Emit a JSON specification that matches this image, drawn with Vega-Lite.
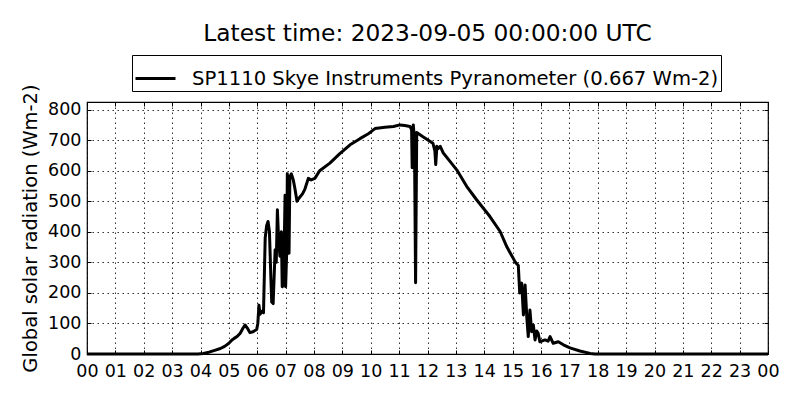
{
  "$schema": "https://vega.github.io/schema/vega-lite/v6.json",
  "width": 681,
  "height": 252,
  "autosize": "none",
  "padding": {"left": 87, "top": 102, "right": 32, "bottom": 46},
  "background": "white",
  "config": {
    "font": "DejaVu Sans",
    "view": {"stroke": "black", "strokeWidth": 1.2},
    "axis": {"domain": false, "labelFont": "DejaVu Sans", "labelFontSize": 17.5, "labelColor": "black", "tickColor": "black", "titleFont": "DejaVu Sans", "titleFontWeight": "normal", "titleColor": "black"}
  },
  "title": {"text": "Latest time: 2023-09-05 00:00:00 UTC", "fontSize": 23.3, "fontWeight": "normal", "font": "DejaVu Sans", "color": "black", "anchor": "middle", "offset": 8},
  "data": {"values": [
    {"h": 0, "v": 0}, {"h": 1, "v": 0}, {"h": 2, "v": 0}, {"h": 3, "v": 0}, {"h": 3.9, "v": 0},
    {"h": 4.1, "v": 2}, {"h": 4.3, "v": 6}, {"h": 4.5, "v": 12}, {"h": 4.7, "v": 18}, {"h": 4.85, "v": 25},
    {"h": 5.0, "v": 35}, {"h": 5.1, "v": 45}, {"h": 5.2, "v": 52}, {"h": 5.3, "v": 58}, {"h": 5.4, "v": 68},
    {"h": 5.5, "v": 85}, {"h": 5.57, "v": 95}, {"h": 5.65, "v": 85}, {"h": 5.74, "v": 70}, {"h": 5.85, "v": 73},
    {"h": 5.98, "v": 80}, {"h": 6.02, "v": 100}, {"h": 6.06, "v": 160}, {"h": 6.1, "v": 130}, {"h": 6.16, "v": 140},
    {"h": 6.22, "v": 135}, {"h": 6.28, "v": 380}, {"h": 6.33, "v": 420}, {"h": 6.38, "v": 434}, {"h": 6.43, "v": 400},
    {"h": 6.48, "v": 250}, {"h": 6.51, "v": 170}, {"h": 6.56, "v": 165}, {"h": 6.63, "v": 341}, {"h": 6.67, "v": 300},
    {"h": 6.71, "v": 472}, {"h": 6.75, "v": 380}, {"h": 6.8, "v": 320}, {"h": 6.85, "v": 400}, {"h": 6.88, "v": 220},
    {"h": 6.93, "v": 230}, {"h": 6.98, "v": 520}, {"h": 7.0, "v": 220}, {"h": 7.04, "v": 341}, {"h": 7.06, "v": 590},
    {"h": 7.1, "v": 500}, {"h": 7.12, "v": 330}, {"h": 7.15, "v": 580}, {"h": 7.2, "v": 590}, {"h": 7.27, "v": 570},
    {"h": 7.33, "v": 540}, {"h": 7.4, "v": 500}, {"h": 7.47, "v": 510}, {"h": 7.6, "v": 525}, {"h": 7.68, "v": 540},
    {"h": 7.8, "v": 575}, {"h": 7.9, "v": 570}, {"h": 8.03, "v": 575}, {"h": 8.2, "v": 600}, {"h": 8.56, "v": 625},
    {"h": 8.9, "v": 655}, {"h": 9.27, "v": 685}, {"h": 9.62, "v": 705}, {"h": 9.9, "v": 720}, {"h": 10.15, "v": 738},
    {"h": 10.5, "v": 742}, {"h": 10.8, "v": 745}, {"h": 11.03, "v": 750}, {"h": 11.2, "v": 748}, {"h": 11.38, "v": 745},
    {"h": 11.44, "v": 735}, {"h": 11.46, "v": 610}, {"h": 11.48, "v": 740}, {"h": 11.5, "v": 750}, {"h": 11.54, "v": 700},
    {"h": 11.58, "v": 233}, {"h": 11.62, "v": 725}, {"h": 11.84, "v": 711}, {"h": 12.19, "v": 690}, {"h": 12.26, "v": 665},
    {"h": 12.29, "v": 620}, {"h": 12.33, "v": 680}, {"h": 12.37, "v": 672}, {"h": 12.45, "v": 680}, {"h": 12.55, "v": 659},
    {"h": 12.8, "v": 630}, {"h": 13.03, "v": 603}, {"h": 13.38, "v": 549}, {"h": 13.73, "v": 505}, {"h": 14.2, "v": 450},
    {"h": 14.56, "v": 401}, {"h": 14.8, "v": 350}, {"h": 15.1, "v": 300}, {"h": 15.2, "v": 290}, {"h": 15.25, "v": 200},
    {"h": 15.32, "v": 232}, {"h": 15.38, "v": 128}, {"h": 15.44, "v": 226}, {"h": 15.5, "v": 120}, {"h": 15.55, "v": 57},
    {"h": 15.61, "v": 144}, {"h": 15.67, "v": 73}, {"h": 15.73, "v": 95}, {"h": 15.79, "v": 46}, {"h": 15.85, "v": 75},
    {"h": 15.9, "v": 68}, {"h": 15.96, "v": 40}, {"h": 16.14, "v": 46}, {"h": 16.25, "v": 42}, {"h": 16.32, "v": 57},
    {"h": 16.43, "v": 35}, {"h": 16.61, "v": 40}, {"h": 16.79, "v": 30}, {"h": 17.02, "v": 20}, {"h": 17.37, "v": 10},
    {"h": 17.73, "v": 2}, {"h": 17.9, "v": 0}, {"h": 24, "v": 0}
  ]},
  "layer": [
    {
      "mark": {"type": "line", "strokeWidth": 3, "strokeJoin": "round"},
      "encoding": {
        "x": {"field": "h", "type": "quantitative", "scale": {"domain": [0, 24], "nice": false},
          "axis": {"orient": "bottom", "title": null, "values": [0,1,2,3,4,5,6,7,8,9,10,11,12,13,14,15,16,17,18,19,20,21,22,23,24],
            "labelExpr": "datum.value == 24 ? '00' : (datum.value < 10 ? '0' + datum.value : '' + datum.value)",
            "tickSize": -4, "labelPadding": 12, "grid": true, "gridColor": "black", "gridDash": [1.5, 3.5], "gridWidth": 1, "gridOpacity": 0.8, "labelFlush": false, "labelOverlap": false}},
        "y": {"field": "v", "type": "quantitative", "scale": {"domain": [0, 825], "nice": false},
          "axis": {"orient": "left", "title": "Global solar radiation (Wm-2)", "titleFontSize": 19.5, "titlePadding": 7, "values": [0,100,200,300,400,500,600,700,800],
            "tickSize": -4, "labelPadding": 10, "grid": true, "gridColor": "black", "gridDash": [1.5, 3.5], "gridWidth": 1, "gridOpacity": 0.8, "labelFlush": false, "labelOverlap": false}},
        "color": {"datum": "SP1110 Skye Instruments Pyranometer (0.667 Wm-2)", "type": "nominal", "scale": {"range": ["black"]},
          "legend": {"title": null, "orient": "none", "legendX": 45, "legendY": -47, "symbolType": "stroke", "symbolSize": 1600, "symbolStrokeWidth": 3,
            "labelFontSize": 19.6, "labelFont": "DejaVu Sans", "labelColor": "black", "strokeColor": "black", "fillColor": "white", "padding": 2, "labelOffset": 15, "labelLimit": 0}}
      }
    },
    {
      "mark": {"type": "line", "strokeOpacity": 0},
      "encoding": {
        "x": {"field": "h", "type": "quantitative", "axis": {"orient": "top", "title": null, "labels": false, "grid": false, "tickSize": -4, "values": [0,1,2,3,4,5,6,7,8,9,10,11,12,13,14,15,16,17,18,19,20,21,22,23,24]}},
        "y": {"field": "v", "type": "quantitative", "axis": {"orient": "right", "title": null, "labels": false, "grid": false, "tickSize": -4, "values": [0,100,200,300,400,500,600,700,800]}}
      }
    }
  ],
  "resolve": {"axis": {"x": "independent", "y": "independent"}}
}
